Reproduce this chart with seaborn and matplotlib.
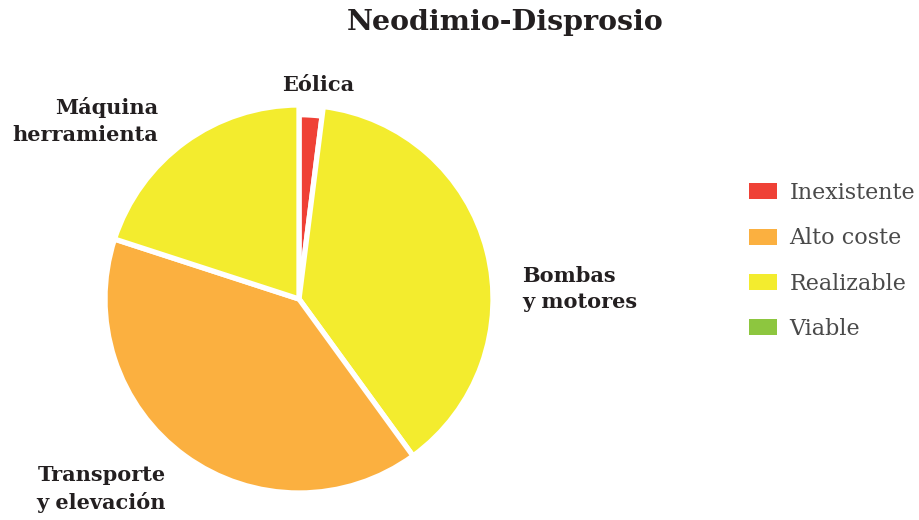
import matplotlib
matplotlib.use("Agg")
import matplotlib.pyplot as plt
from matplotlib.patches import Patch
import seaborn as sns

# Sectors, clockwise from the top
sectors = ["Eólica", "Bombas\ny motores", "Transporte\ny elevación", "Máquina\nherramienta"]
shares = [2, 38, 40, 20]
sector_status = ["Inexistente", "Realizable", "Alto coste", "Realizable"]

# Status categories shown in the legend
status_levels = ["Inexistente", "Alto coste", "Realizable", "Viable"]
status_colors = ["#EF4136", "#FBB040", "#F3EC2E", "#8DC63F"]

title = "Neodimio-Disprosio"

sns.set_theme(style="white")
plt.rcParams["font.family"] = ["DejaVu Serif", "DejaVu Sans"]

palette = dict(zip(status_levels, sns.color_palette(status_colors)))

W, H = 920, 520
fig = plt.figure(figsize=(W / 100, H / 100), dpi=100)
ax = fig.add_axes([0, 0, 1, 1])

# pixel-based placement of the pie: centre and scale (px per data unit)
CX, CY, S = 299, 299, 194


def px(x, y):
    return (x - CX) / S, (CY - y) / S


wedges, _ = ax.pie(
    shares,
    colors=[palette[s] for s in sector_status],
    startangle=90,
    counterclock=False,
    radius=1,
    wedgeprops=dict(edgecolor="white", linewidth=3.8),
)
wedges[0].set_radius(0.95)

ax.set_xlim(-CX / S, (W - CX) / S)
ax.set_ylim(-(H - CY) / S, CY / S)
ax.set_aspect("auto")
ax.axis("off")

label_style = dict(fontsize=15, fontweight="bold", color="#231F20", linespacing=1.4)
label_pos = [
    (318, 85, "center"),
    (522, 289, "left"),
    (166, 489, "right"),
    (158, 121, "right"),
]
for name, (x, y, ha) in zip(sectors, label_pos):
    ax.text(*px(x, y), name, ha=ha, va="center", multialignment=ha, **label_style)

fig.text(505 / W, 1 - 23 / H, title, ha="center", va="center",
         fontsize=20.5, fontweight="bold", color="#231F20")

handles = [Patch(facecolor=palette[s], edgecolor="none", label=s) for s in status_levels]
leg = ax.legend(
    handles=handles,
    loc="center left",
    bbox_to_anchor=(749 / W, 1 - 261 / H),
    bbox_transform=fig.transFigure,
    frameon=False,
    fontsize=16,
    handlelength=1.27,
    handleheight=0.73,
    handletextpad=0.55,
    labelspacing=1.05,
    borderpad=0,
    borderaxespad=0,
)
for t in leg.get_texts():
    t.set_color("#4a4a4a")

fig.savefig("out.png", dpi=100, facecolor="white")
